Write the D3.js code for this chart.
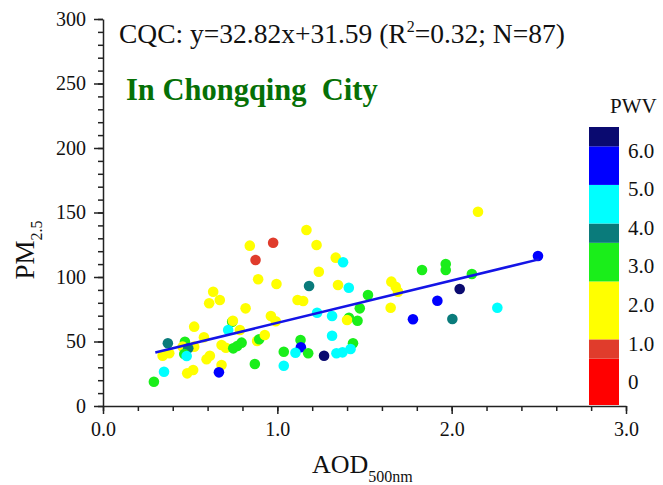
<!DOCTYPE html>
<html>
<head>
<meta charset="utf-8">
<script src="https://cdn.jsdelivr.net/npm/d3@7"></script>
<style>
  body { margin: 0; background: #fff; }
  svg text { font-family: "Liberation Serif", "Times New Roman", serif; fill: #111; }
</style>
</head>
<body>
<svg id="chart" width="663" height="485"></svg>
<script>
// AOD (x), PM2.5 (y) and PWV (colour) for each station-day
const aod = [0.842, 0.976, 0.875, 0.890, 0.995, 0.632, 0.670, 0.609, 0.818, 0.523,
             0.741, 0.963, 0.991, 0.718, 0.785, 0.579, 0.372, 0.470, 0.457, 0.523,
             0.489, 0.342, 0.380, 0.466, 0.480, 0.680, 0.705, 0.747, 0.770, 0.795,
             0.884, 0.896, 0.928, 0.594, 0.613, 0.680, 0.665, 0.483, 0.517, 0.350,
             0.292, 0.871, 1.167, 1.225, 1.335, 1.377, 1.238, 1.182, 1.348, 1.410,
             1.116, 1.148, 1.228, 1.314, 1.411, 1.400, 1.460, 1.473, 1.520, 1.654,
             1.679, 1.692, 1.830, 1.918, 1.778, 1.650, 1.314, 1.434, 1.339, 1.374,
             1.420, 1.268, 1.133, 1.135, 1.104, 1.177, 1.037, 1.037, 2.151, 2.495,
             1.966, 1.966, 2.116, 2.046, 2.004, 2.262, 0.745];
const pm25 = [124.3, 126.6, 113.2, 98.2, 94.6, 88.6, 82.2, 79.6, 75.7, 61.5,
              65.3, 69.8, 65.7, 58.9, 58.9, 53.3, 48.6, 49.8, 46.0, 46.0,
              44.7, 39.0, 40.9, 40.3, 38.8, 47.3, 45.2, 44.7, 46.5, 49.1,
              50.4, 51.7, 55.0, 36.2, 39.0, 31.8, 26.1, 25.3, 27.9, 26.6,
              18.8, 32.6, 136.4, 124.8, 115.0, 111.4, 104.1, 93.0, 93.8, 91.7,
              82.2, 81.4, 72.3, 69.8, 68.4, 66.7, 66.1, 75.7, 86.0, 96.4,
              92.5, 88.6, 105.4, 81.6, 67.2, 76.2, 54.5, 48.6, 40.9, 41.6,
              44.2, 39.0, 51.2, 45.5, 41.3, 40.9, 42.1, 31.2, 150.6, 116.3,
              110.1, 105.4, 102.3, 90.7, 67.4, 76.2, 66.1];
const pwv = [1.8, 0.8, 0.8, 1.8, 1.8, 1.8, 1.8, 1.8, 1.8, 1.8,
             3.0, 1.8, 1.8, 4.6, 1.8, 1.8, 3.8, 3.0, 1.8, 1.8,
             3.8, 1.8, 1.8, 3.0, 4.6, 1.8, 1.8, 3.0, 3.0, 3.0,
             1.8, 3.0, 1.8, 1.8, 1.8, 1.8, 5.6, 1.8, 1.8, 4.6,
             3.0, 3.0, 1.8, 1.8, 1.8, 4.6, 1.8, 3.8, 1.8, 4.6,
             1.8, 1.8, 4.6, 4.6, 3.0, 1.8, 3.0, 3.0, 3.0, 1.8,
             1.8, 1.8, 3.0, 5.6, 5.6, 1.8, 4.6, 3.0, 4.6, 4.6,
             4.6, 6.3, 3.0, 5.6, 4.6, 3.0, 3.0, 4.6, 1.8, 5.6,
             3.0, 3.0, 3.0, 6.3, 3.8, 4.6, 1.8];

// regression: y = 32.82x + 31.59, drawn over the AOD range
const fitSlope = 32.82, fitIntercept = 31.59;
const fitRange = [0.3, 2.5];

// PWV colour bands (lower edge of each band after the first)
const pwvThresholds = [0.6, 1.1, 2.6, 3.6, 4.1, 5.1, 6.1];
const pwvColors = ["#ff0000", "#e03c2c", "#ffff00", "#1aee1a", "#0a7b7b", "#00ffff", "#0000ff", "#0a0a70"];
const pwvExtent = [-0.6, 6.6];
const pwvTicks = [0, 1, 2, 3, 4, 5, 6];

const xTicks = [0, 1, 2, 3];
const yTicks = [0, 50, 100, 150, 200, 250, 300];

const svg = d3.select("#chart");
const plotLeft = 103, plotRight = 626, plotTop = 19, plotBottom = 406;

const x = d3.scaleLinear().domain([0, 3]).range([plotLeft, plotRight]);
const y = d3.scaleLinear().domain([0, 300]).range([plotBottom, plotTop]);
const color = d3.scaleThreshold().domain(pwvThresholds).range(pwvColors);

// minor ticks
svg.append("g")
    .attr("transform", `translate(0,${plotBottom})`)
    .call(d3.axisBottom(x).tickValues(d3.range(0, 3.01, 0.2)).tickSize(5).tickFormat(""))
    .call(g => g.select(".domain").remove());
svg.append("g")
    .attr("transform", `translate(${plotLeft},0)`)
    .call(d3.axisLeft(y).tickValues(d3.range(0, 301, 10)).tickSize(5).tickFormat(""))
    .call(g => g.select(".domain").remove());

// major ticks
const xAxis = svg.append("g")
    .attr("transform", `translate(0,${plotBottom})`)
    .call(d3.axisBottom(x).tickValues(xTicks).tickSize(8).tickSizeOuter(0).tickPadding(8).tickFormat(d3.format(".1f")));
const yAxis = svg.append("g")
    .attr("transform", `translate(${plotLeft},0)`)
    .call(d3.axisLeft(y).tickValues(yTicks).tickSize(9).tickSizeOuter(0).tickPadding(8));

svg.selectAll(".tick line, .domain").attr("stroke", "#222").attr("stroke-width", 1.5);
xAxis.selectAll("text").attr("font-size", 20).attr("font-family", "Liberation Serif");
yAxis.selectAll("text").attr("font-size", 20).attr("font-family", "Liberation Serif");

// points
svg.append("g")
    .selectAll("circle")
    .data(d3.range(aod.length))
    .join("circle")
    .attr("cx", i => x(aod[i]))
    .attr("cy", i => y(pm25[i]))
    .attr("r", 5.3)
    .attr("fill", i => color(pwv[i]));

// fit line
svg.append("line")
    .attr("x1", x(fitRange[0])).attr("y1", y(fitSlope * fitRange[0] + fitIntercept))
    .attr("x2", x(fitRange[1])).attr("y2", y(fitSlope * fitRange[1] + fitIntercept))
    .attr("stroke", "#1414e6").attr("stroke-width", 2.5);

// equation text
const eq = svg.append("text").attr("x", 119).attr("y", 43).attr("font-size", 27.5);
eq.append("tspan").text("CQC: y=32.82x+31.59 (R");
eq.append("tspan").attr("font-size", 16).attr("dy", -11).text("2");
eq.append("tspan").attr("dy", 11).text("=0.32; N=87)");

svg.append("text")
    .attr("x", 126).attr("y", 100)
    .attr("font-size", 30.5).attr("font-weight", "bold")
    .attr("xml:space", "preserve")
    .style("fill", "#067006")
    .text("In Chongqing  City");

// axis titles
const xt = svg.append("text").attr("x", 312).attr("y", 473).attr("font-size", 26);
xt.append("tspan").text("AOD");
xt.append("tspan").attr("font-size", 16).attr("dy", 9).text("500nm");

const yt = svg.append("text")
    .attr("transform", "translate(34,250) rotate(-90)")
    .attr("text-anchor", "middle")
    .attr("font-size", 27);
yt.append("tspan").text("PM");
yt.append("tspan").attr("font-size", 16).attr("dy", 8).text("2.5");

// colour bar legend
const ly = d3.scaleLinear().domain(pwvExtent).range([405, 127]);
const bandEdges = [pwvExtent[0], ...pwvThresholds, pwvExtent[1]];
const legend = svg.append("g");
legend.selectAll("rect")
    .data(pwvColors)
    .join("rect")
    .attr("x", 589)
    .attr("width", 30)
    .attr("y", (d, i) => ly(bandEdges[i + 1]))
    .attr("height", (d, i) => ly(bandEdges[i]) - ly(bandEdges[i + 1]))
    .attr("fill", d => d);
legend.selectAll("text.lab")
    .data(pwvTicks)
    .join("text")
    .attr("class", "lab")
    .attr("x", 628)
    .attr("y", d => ly(d))
    .attr("dy", "0.35em")
    .attr("font-size", 21)
    .text(d => d === 0 ? "0" : d.toFixed(1));
legend.append("text")
    .attr("x", 610).attr("y", 113)
    .attr("font-size", 21)
    .text("PWV");
</script>
</body>
</html>
